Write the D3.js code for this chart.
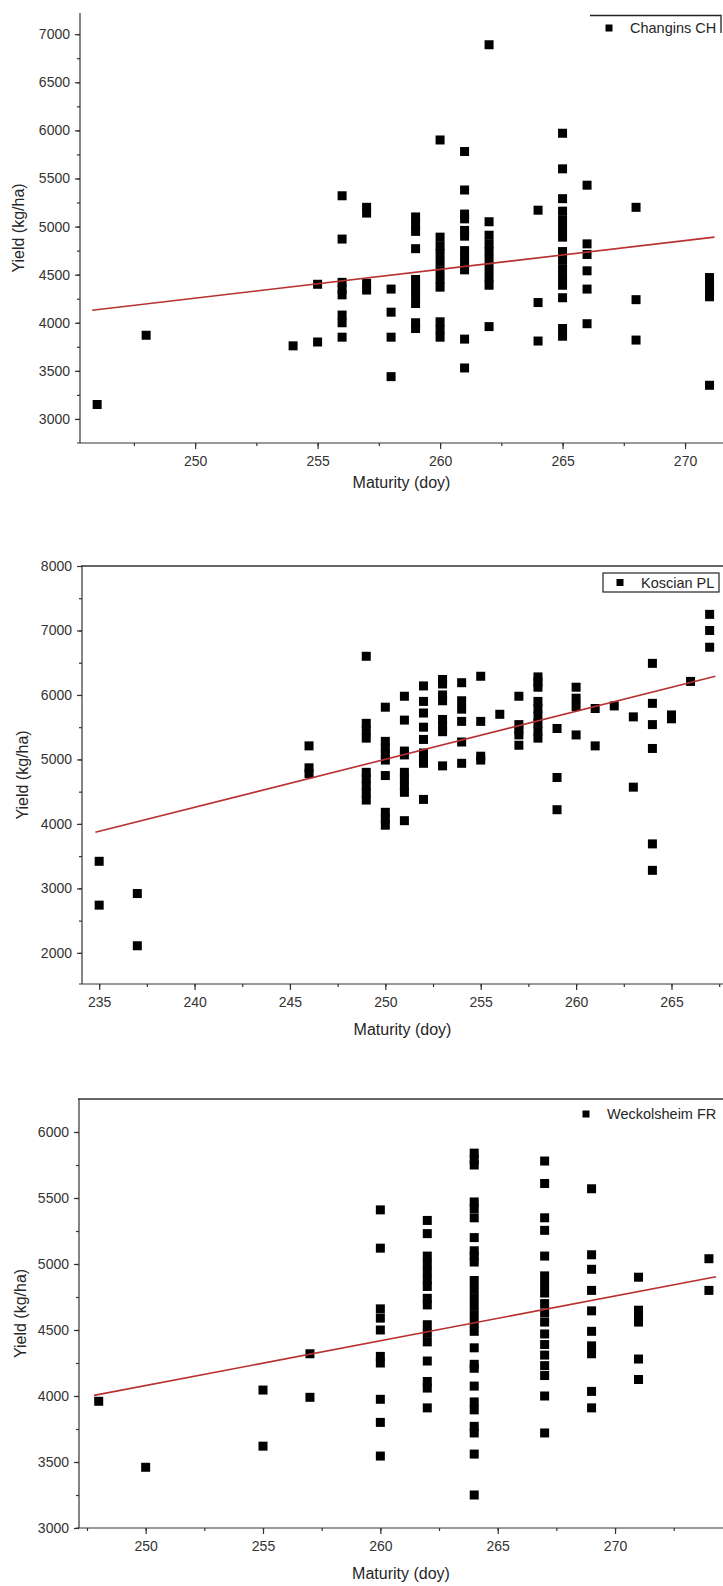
<!DOCTYPE html>
<html>
<head>
<meta charset="utf-8">
<title>Yield vs maturity</title>
<script src="https://cdn.jsdelivr.net/npm/d3@7"></script>
<style>
  body { margin: 0; background: #fff; }
  svg text { font-family: "Liberation Sans", Arial, sans-serif; fill: #262626; }
</style>
</head>
<body>
<svg id="chart" width="723" height="1586"></svg>
<script>
// Changins CH
var changinsDays = [246, 248, 254, 255, 256, 257, 258, 259, 260, 261, 262, 264, 265, 266, 268, 271];
var changinsYields = [
  [3150], [3870], [3760], [4400, 3800],
  [5320, 4870, 4420, 4350, 4290, 4080, 4000, 3850],
  [5200, 5140, 4410, 4340],
  [4350, 4110, 3850, 3440],
  [5100, 5025, 4950, 4770, 4450, 4370, 4290, 4200, 4000, 3940],
  [5900, 4890, 4800, 4720, 4630, 4540, 4450, 4370, 4010, 3930, 3850],
  [5780, 5380, 5130, 5080, 4960, 4900, 4750, 4680, 4610, 4550, 3830, 3530],
  [6890, 5050, 4910, 4820, 4740, 4650, 4560, 4470, 4390, 3960],
  [5170, 4210, 3810],
  [5970, 5600, 5290, 5160, 5070, 4980, 4890, 4740, 4650, 4560, 4470, 4390, 4260, 3940, 3860],
  [5430, 4820, 4710, 4540, 4350, 3990],
  [5200, 4240, 3820],
  [4470, 4400, 4330, 4270, 3350]
];
var changinsFit = [[245.8, 4130], [271.2, 4890]];
var changinsXTicks = [250, 255, 260, 265, 270];
var changinsYTicks = [3000, 3500, 4000, 4500, 5000, 5500, 6000, 6500, 7000];

// Koscian PL
var koscianDays = [235, 237, 246, 249, 250, 251, 252, 253, 254, 255, 256, 257, 258, 259, 260, 261, 262, 263, 264, 265, 266, 267];
var koscianYields = [
  [3420, 2740], [2920, 2110], [5210, 4870, 4780],
  [6600, 5560, 5450, 5330, 4800, 4700, 4590, 4480, 4370],
  [5810, 5280, 5180, 5090, 4990, 4750, 4180, 4080, 3980],
  [5980, 5610, 5130, 5070, 4800, 4700, 4590, 4490, 4050],
  [6140, 5900, 5720, 5500, 5310, 5100, 5020, 4940, 4380],
  [6240, 6170, 6000, 5910, 5620, 5520, 5430, 4900],
  [6190, 5910, 5780, 5590, 5270, 4940],
  [6290, 5590, 5050, 4990],
  [5700],
  [5980, 5540, 5460, 5380, 5220],
  [6280, 6200, 6120, 5900, 5790, 5670, 5560, 5440, 5330],
  [5480, 4720, 4220],
  [6120, 5950, 5820, 5380],
  [5790, 5210], [5830], [5660, 4570],
  [6490, 5870, 5540, 5170, 3690, 3280],
  [5690, 5630], [6210], [7250, 7000, 6740]
];
var koscianFit = [[234.8, 3870], [267.3, 6290]];
var koscianXTicks = [235, 240, 245, 250, 255, 260, 265];
var koscianYTicks = [2000, 3000, 4000, 5000, 6000, 7000, 8000];

// Weckolsheim FR
var weckDays = [248, 250, 255, 257, 260, 262, 264, 267, 269, 271, 274];
var weckYields = [
  [3960], [3460], [4045, 3620], [4320, 3990],
  [5410, 5120, 4660, 4590, 4500, 4300, 4250, 3975, 3800, 3545],
  [5330, 5230, 5060, 5000, 4940, 4880, 4830, 4740, 4690, 4540, 4475, 4410, 4265, 4110, 4060, 3910],
  [5840, 5790, 5750, 5470, 5420, 5350, 5200, 5100, 5060, 5015, 4875, 4810, 4745, 4680, 4615, 4550, 4490, 4365, 4240, 4210, 4075, 3955, 3895, 3770, 3720, 3560, 3250],
  [5780, 5610, 5350, 5255, 5060, 4910, 4845, 4780, 4700, 4630, 4560, 4470, 4390, 4310, 4230, 4155, 4000, 3720],
  [5570, 5070, 4960, 4800, 4645, 4490, 4380, 4320, 4035, 3910],
  [4900, 4650, 4600, 4560, 4280, 4125],
  [5040, 4800]
];
var weckFit = [[247.8, 4005], [274.3, 4903]];
var weckXTicks = [250, 255, 260, 265, 270];
var weckYTicks = [3000, 3500, 4000, 4500, 5000, 5500, 6000];

function toPoints(days, yields) {
  return days.flatMap(function(d, i) {
    return yields[i].map(function(v) { return { x: d, y: v }; });
  });
}

var panels = [
  { name: "Changins CH", pts: toPoints(changinsDays, changinsYields), fit: changinsFit,
    xt: changinsXTicks, yt: changinsYTicks,
    left: 80, right: 723, top: 13, bottom: 443, xd: [245.3, 271.55], yd: [2750, 7220],
    topLine: false, legend: "partial", titleDy: 45, ylabX: 24 },
  { name: "Koscian PL", pts: toPoints(koscianDays, koscianYields), fit: koscianFit,
    xt: koscianXTicks, yt: koscianYTicks,
    left: 82, right: 723, top: 566, bottom: 984, xd: [234.1, 267.7], yd: [1517, 8000],
    topLine: true, legend: "box", titleDy: 51, ylabX: 28 },
  { name: "Weckolsheim FR", pts: toPoints(weckDays, weckYields), fit: weckFit,
    xt: weckXTicks, yt: weckYTicks,
    left: 79, right: 723, top: 1099, bottom: 1528, xd: [247.16, 274.6], yd: [3000, 6250],
    topLine: true, legend: "none", titleDy: 51, ylabX: 26 }
];

var svg = d3.select("#chart");

panels.forEach(function(p) {
  var x = d3.scaleLinear().domain(p.xd).range([p.left, p.right]);
  var y = d3.scaleLinear().domain(p.yd).range([p.bottom, p.top]);
  var g = svg.append("g");

  var xStep = p.xt[1] - p.xt[0], yStep = p.yt[1] - p.yt[0];
  var xMinor = d3.range(p.xt[0] - xStep / 2, p.xd[1], xStep / 2).filter(function(v) { return v > p.xd[0]; });
  var yMinor = d3.range(p.yt[0] - yStep / 2, p.yd[1], yStep / 2).filter(function(v) { return v > p.yd[0]; });

  // minor ticks
  g.append("g").attr("class", "minor")
    .attr("transform", "translate(0," + p.bottom + ")")
    .call(d3.axisBottom(x).tickValues(xMinor).tickSize(3).tickFormat(""));
  g.append("g").attr("class", "minor")
    .attr("transform", "translate(" + p.left + ",0)")
    .call(d3.axisLeft(y).tickValues(yMinor).tickSize(3).tickFormat(""));
  g.selectAll(".minor .domain").remove();

  // major axes
  var gx = g.append("g")
    .attr("transform", "translate(0," + p.bottom + ")")
    .call(d3.axisBottom(x).tickValues(p.xt).tickSize(6).tickSizeOuter(0).tickPadding(7).tickFormat(d3.format("d")));
  var gy = g.append("g")
    .attr("transform", "translate(" + p.left + ",0)")
    .call(d3.axisLeft(y).tickValues(p.yt).tickSize(5).tickSizeOuter(0).tickPadding(5).tickFormat(d3.format("d")));
  gx.select(".domain").attr("d", "M" + (p.left - 3) + ",0H" + p.right);
  gy.select(".domain").attr("d", "M0," + p.top + "V" + p.bottom);

  g.selectAll(".tick text").attr("font-size", 14).style("fill", "#333").attr("font-family", null);
  g.selectAll(".domain, .tick line").attr("stroke", "#333").attr("stroke-width", 1.2);

  if (p.topLine) {
    g.append("line").attr("x1", p.left - 1).attr("x2", p.right).attr("y1", p.top).attr("y2", p.top)
      .attr("stroke", "#333").attr("stroke-width", 1.3);
  }

  // axis titles
  g.append("text").attr("x", (p.left + p.right) / 2).attr("y", p.bottom + p.titleDy)
    .attr("text-anchor", "middle").attr("font-size", 16).text("Maturity (doy)");
  g.append("text")
    .attr("transform", "translate(" + p.ylabX + "," + (p.top + p.bottom) / 2 + ") rotate(-90)")
    .attr("text-anchor", "middle").attr("font-size", 16).text("Yield (kg/ha)");

  // points
  g.append("g").selectAll("rect").data(p.pts).enter().append("rect")
    .attr("x", function(d) { return x(d.x) - 4.5; })
    .attr("y", function(d) { return y(d.y) - 4.5; })
    .attr("width", 9).attr("height", 9)
    .attr("fill", "#000");

  // fitted line
  g.append("path").datum(p.fit)
    .attr("fill", "none").attr("stroke", "#b8302f").attr("stroke-width", 1.6)
    .attr("d", d3.line().x(function(d) { return x(d[0]); }).y(function(d) { return y(d[1]); }));

  // legend
  var lx, ly;
  if (p.legend === "partial") {
    g.append("path").attr("d", "M590,15.5H721V33").attr("fill", "none").attr("stroke", "#222").attr("stroke-width", 1.3);
    lx = 609; ly = 28;
  } else if (p.legend === "box") {
    g.append("rect").attr("x", 603).attr("y", p.top + 7).attr("width", 116).attr("height", 19)
      .attr("fill", "#fff").attr("stroke", "#222").attr("stroke-width", 1.2);
    lx = 620; ly = p.top + 16.5;
  } else {
    lx = 586; ly = p.top + 15;
  }
  g.append("rect").attr("x", lx - 3.5).attr("y", ly - 3.5).attr("width", 7).attr("height", 7).attr("fill", "#000");
  g.append("text").attr("x", lx + 21).attr("y", ly + 5).attr("font-size", 14.5).text(p.name);
});
</script>
</body>
</html>
